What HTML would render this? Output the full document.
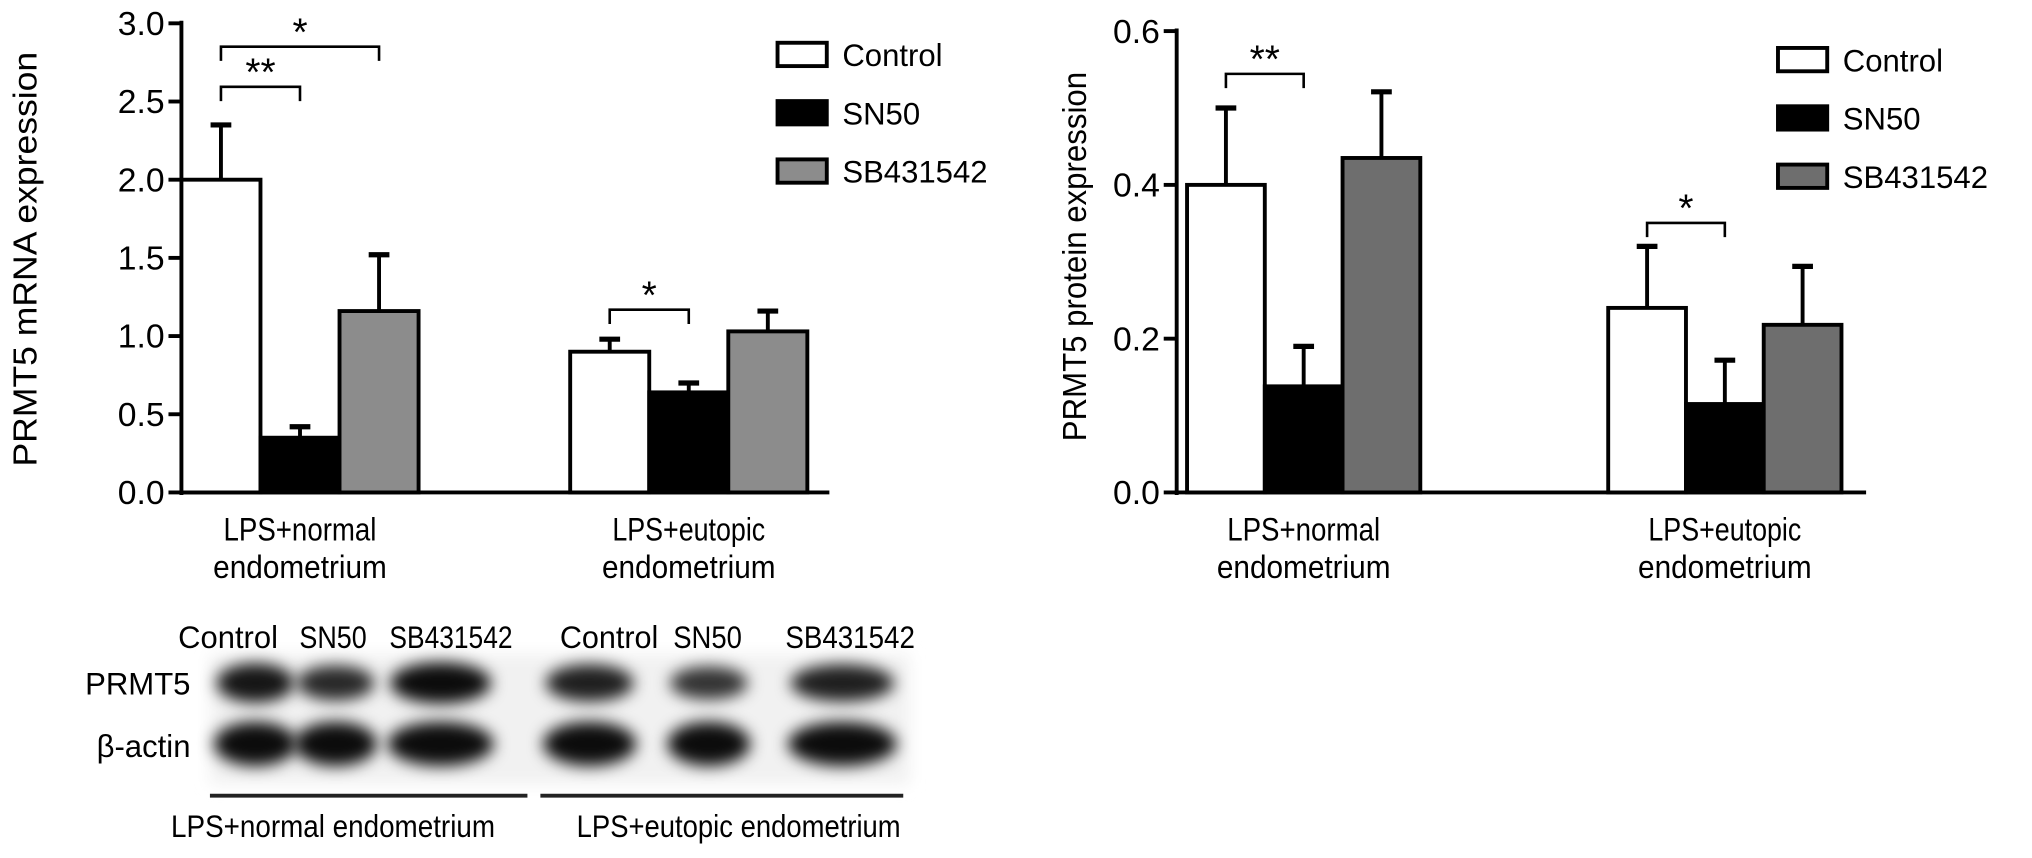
<!DOCTYPE html>
<html><head><meta charset="utf-8"><style>
body{margin:0;background:#fff;}
svg{display:block;font-family:"Liberation Sans",Arial,sans-serif;}
</style></head><body>
<svg id="fig" width="2032" height="858" viewBox="0 0 2032 858" xmlns="http://www.w3.org/2000/svg">
<defs>
<filter id="blur" x="-30%" y="-60%" width="160%" height="220%"><feGaussianBlur stdDeviation="6"/></filter>
</defs>
<g transform="scale(1.2959)">
<g id="left"></g>
<g id="right"></g>
<g id="blot"></g>
</g>
</svg>
<script>
const seriesNames = ["Control","SN50","SB431542"];
const groupLabels = [["LPS+normal","endometrium"],["LPS+eutopic","endometrium"]];
const mrnaMeans = [[2.0,0.35,1.16],[0.9,0.64,1.03]];
const mrnaErr = [[0.35,0.07,0.36],[0.08,0.06,0.13]];
const mrnaTicks = ["0.0","0.5","1.0","1.5","2.0","2.5","3.0"];
const protMeans = [[0.40,0.138,0.435],[0.24,0.115,0.218]];
const protErr = [[0.10,0.052,0.086],[0.08,0.057,0.076]];
const protTicks = ["0.0","0.2","0.4","0.6"];
const prmt5Intensity = [0.9,0.7,1.0,0.8,0.6,0.8];
const actinIntensity = [1,1,1,1,1,1];
const NS="http://www.w3.org/2000/svg";
function mk(parent,tag,attrs,text){const e=document.createElementNS(NS,tag);for(const k in attrs)e.setAttribute(k,attrs[k]);if(text!==undefined)e.textContent=text;parent.appendChild(e);return e;}

function chart(g,cfg){
  const y=v=>cfg.y0-(v/cfg.max)*(cfg.y0-cfg.yTop);
  let a=mk(g,'line',{x1:cfg.ax,y1:cfg.yTop-2,x2:cfg.ax,y2:cfg.y0+2,stroke:'#000','stroke-width':3});
  
  a=mk(g,'line',{x1:cfg.ax,y1:cfg.y0,x2:cfg.axEnd,y2:cfg.y0,stroke:'#000','stroke-width':3});
  
  cfg.ticks.forEach((t)=>{const v=parseFloat(t);const yy=y(v);
    mk(g,'line',{x1:cfg.ax-10,y1:yy,x2:cfg.ax,y2:yy,stroke:'#000','stroke-width':3});
    const tx=mk(g,'text',{x:cfg.ax-13,y:yy+9,'text-anchor':'end','font-size':26},t);
    });
  const tt=mk(g,'text',{x:0,y:0,'font-size':26,'text-anchor':'middle',textLength:cfg.titleLen,lengthAdjust:'spacingAndGlyphs',transform:`translate(${cfg.titleX},${cfg.titleY}) rotate(-90)`},cfg.title);
  
  cfg.means.forEach((grp,gi)=>{
    grp.forEach((m,si)=>{
      const x0=cfg.groupX[gi]+si*cfg.bw;
      const eTop=y(m+cfg.err[gi][si]);const cx=x0+cfg.bw/2;
      const el=mk(g,'line',{x1:cx,y1:y(m),x2:cx,y2:eTop,stroke:'#000','stroke-width':3});
      
      mk(g,'line',{x1:cx-8,y1:eTop,x2:cx+8,y2:eTop,stroke:'#000','stroke-width':4});
      const r=mk(g,'rect',{x:x0,y:y(m),width:cfg.bw,height:cfg.y0-y(m),fill:cfg.colors[si],stroke:'#000','stroke-width':3});
      
    });
    const cx=cfg.groupX[gi]+1.5*cfg.bw;
    groupLabels[gi].forEach((l,li)=>{const t=mk(g,'text',{x:cx,y:cfg.y0+37+li*29,'text-anchor':'middle','font-size':25,textLength:li?134:118,lengthAdjust:'spacingAndGlyphs'},l);
      });
  });
  cfg.brackets.forEach(b=>{
    const x1=cfg.groupX[b.g]+(b.a+0.5)*cfg.bw,x2=cfg.groupX[b.g]+(b.b+0.5)*cfg.bw;
    const p=mk(g,'path',{d:`M${x1},${b.y+11}V${b.y}H${x2}V${b.y+11}`,fill:'none',stroke:'#000','stroke-width':2});
    
    const s=mk(g,'text',{x:(x1+x2)/2,y:b.y-1,'text-anchor':'middle','font-size':30},b.s);
    
  });
  seriesNames.forEach((n,i)=>{
    const ly=cfg.legY+i*cfg.legStep;
    const r=mk(g,'rect',{x:cfg.legX,y:ly-9,width:38,height:18,fill:cfg.colors[i],stroke:'#000','stroke-width':3});
    
    const t=mk(g,'text',{x:cfg.legX+50,y:ly+9,'font-size':24},n);
    
  });
}
chart(document.getElementById('left'),{ax:140,axEnd:640,y0:380,yTop:18,max:3.0,ticks:mrnaTicks,means:mrnaMeans,err:mrnaErr,
  groupX:[140,440],bw:61,colors:['#fff','#000','#8c8c8c'],title:'PRMT5 mRNA expression',titleX:28,titleY:200,titleLen:320,
  brackets:[{g:0,a:0,b:1,y:67,s:'**'},{g:0,a:0,b:2,y:36,s:'*'},{g:1,a:0,b:1,y:239,s:'*'}],legX:600,legY:42,legStep:45});
chart(document.getElementById('right'),{ax:908,axEnd:1440,y0:380,yTop:24,max:0.6,ticks:protTicks,means:protMeans,err:protErr,
  groupX:[916,1241],bw:60,colors:['#fff','#000','#6e6e6e'],title:'PRMT5 protein expression',titleX:838,titleY:198,titleLen:285,
  brackets:[{g:0,a:0,b:1,y:57,s:'**'},{g:1,a:0,b:1,y:172,s:'*'}],legX:1372,legY:46,legStep:45});

// western blot
const bg=document.getElementById('blot');
const laneX=[197,259,340,455,547,650];
const laneLabels=["Control","SN50","SB431542","Control","SN50","SB431542"];
const labelX=[176,257,348,470,546,656];
const labelW=[77,52,95,76,53,100];
const laneW=[60,60,78,68,60,80];
mk(bg,'rect',{x:162,y:505,width:540,height:100,fill:'#f1f1f1',filter:'url(#blur)'});
laneLabels.forEach((l,i)=>{const t=mk(bg,'text',{x:labelX[i]-labelW[i]/2,y:500,'font-size':24,textLength:labelW[i],lengthAdjust:'spacingAndGlyphs'},l);
  
  const b=mk(bg,'ellipse',{cx:laneX[i],cy:527,rx:laneW[i]/2,ry:8+8*prmt5Intensity[i],fill:'#000','fill-opacity':0.55+0.4*prmt5Intensity[i],filter:'url(#blur)'});
  
  const a=mk(bg,'ellipse',{cx:laneX[i],cy:574,rx:laneW[i]/2+2,ry:17*actinIntensity[i],fill:'#000','fill-opacity':0.95,filter:'url(#blur)'});
  
});
let t=mk(bg,'text',{x:147,y:536,'text-anchor':'end','font-size':24},'PRMT5');
t=mk(bg,'text',{x:147,y:584,'text-anchor':'end','font-size':24},'β-actin');
let l=mk(bg,'line',{x1:162,y1:614,x2:407,y2:614,stroke:'#222','stroke-width':3});
l=mk(bg,'line',{x1:417,y1:614,x2:697,y2:614,stroke:'#222','stroke-width':3});
t=mk(bg,'text',{x:257,y:646,'text-anchor':'middle','font-size':24,textLength:250,lengthAdjust:'spacingAndGlyphs'},'LPS+normal endometrium');
t=mk(bg,'text',{x:570,y:646,'text-anchor':'middle','font-size':24,textLength:250,lengthAdjust:'spacingAndGlyphs'},'LPS+eutopic endometrium');
</script>
</body></html>
